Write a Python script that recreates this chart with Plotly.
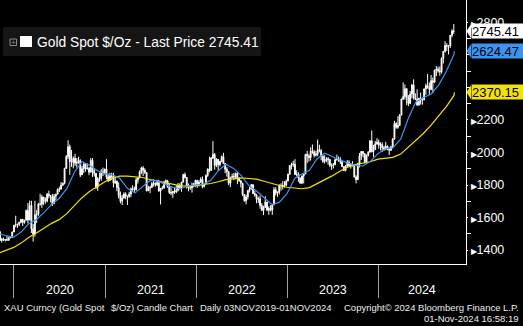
import plotly.graph_objects as go
import pandas as pd

# ---------------- data (weekly candles, USD/oz) ----------------
first_open = 1511
high_2019 = [1517, 1475, 1477, 1466, 1485, 1480, 1482, 1514, 1554]
low_2019 = [1456, 1446, 1456, 1452, 1460, 1457, 1472, 1477, 1510]
close_2019 = [1459, 1468, 1462, 1464, 1460, 1476, 1478, 1511, 1552]

high_2020 = [1611, 1563, 1574, 1589, 1591, 1584, 1649, 1689, 1704, 1703, 1560, 1703, 1645,
             1690, 1747, 1739, 1723, 1723, 1751, 1765, 1737, 1745, 1745, 1746, 1779, 1789,
             1818, 1815, 1906, 1984, 2075, 2049, 2015, 1976, 1992, 1966, 1973, 1958, 1917,
             1933, 1933, 1933, 1911, 1965, 1965, 1897, 1875, 1848, 1875, 1897, 1907, 1900]
low_2020 = [1540, 1536, 1546, 1565, 1548, 1562, 1580, 1563, 1584, 1505, 1451, 1482, 1567,
            1610, 1673, 1659, 1676, 1685, 1693, 1718, 1693, 1671, 1684, 1705, 1743, 1757,
            1772, 1795, 1804, 1900, 1960, 1863, 1911, 1902, 1917, 1907, 1931, 1849, 1863,
            1873, 1882, 1895, 1860, 1876, 1850, 1852, 1775, 1764, 1820, 1826, 1855, 1865]
close_2020 = [1557, 1557, 1571, 1589, 1570, 1584, 1643, 1585, 1674, 1530, 1498, 1617, 1620,
              1683, 1683, 1726, 1700, 1702, 1743, 1734, 1730, 1685, 1730, 1743, 1771, 1775,
              1799, 1810, 1902, 1975, 2035, 1944, 1940, 1964, 1934, 1941, 1950, 1862, 1900,
              1930, 1899, 1902, 1879, 1951, 1889, 1871, 1788, 1839, 1840, 1881, 1877, 1898]

high_2021 = [1959, 1867, 1875, 1875, 1875, 1855, 1826, 1816, 1760, 1740, 1755, 1755, 1734,
             1758, 1784, 1798, 1790, 1845, 1845, 1890, 1912, 1916, 1903, 1877, 1795, 1795,
             1818, 1834, 1815, 1832, 1832, 1782, 1795, 1823, 1834, 1828, 1808, 1787, 1764,
             1782, 1800, 1813, 1810, 1818, 1869, 1877, 1849, 1809, 1793, 1815, 1812, 1832]
low_2021 = [1835, 1817, 1824, 1830, 1785, 1807, 1761, 1717, 1687, 1677, 1719, 1712, 1677,
            1721, 1725, 1764, 1756, 1770, 1809, 1843, 1868, 1855, 1867, 1761, 1770, 1750,
            1783, 1791, 1789, 1794, 1758, 1680, 1772, 1779, 1807, 1783, 1745, 1737, 1721,
            1746, 1750, 1760, 1772, 1758, 1815, 1840, 1778, 1761, 1770, 1753, 1785, 1789]
close_2021 = [1850, 1828, 1856, 1847, 1813, 1824, 1784, 1734, 1700, 1719, 1745, 1732, 1729,
              1744, 1777, 1777, 1769, 1831, 1843, 1881, 1905, 1891, 1877, 1764, 1781, 1784,
              1808, 1812, 1802, 1814, 1763, 1779, 1781, 1818, 1827, 1787, 1754, 1751, 1761,
              1757, 1768, 1792, 1783, 1818, 1864, 1846, 1788, 1783, 1783, 1798, 1808, 1829]

high_2022 = [1831, 1829, 1848, 1853, 1809, 1865, 1902, 1974, 1972, 2070, 1997, 1966, 1960,
             1945, 1982, 1998, 1936, 1910, 1885, 1850, 1870, 1874, 1877, 1880, 1847, 1830,
             1813, 1745, 1740, 1767, 1788, 1807, 1802, 1765, 1745, 1728, 1735, 1688, 1672,
             1730, 1683, 1668, 1675, 1682, 1787, 1787, 1760, 1805, 1810, 1824, 1823, 1833]
low_2022 = [1782, 1792, 1812, 1780, 1785, 1807, 1850, 1878, 1888, 1960, 1895, 1910, 1890,
            1915, 1940, 1932, 1872, 1851, 1799, 1787, 1840, 1830, 1837, 1805, 1820, 1785,
            1732, 1697, 1681, 1711, 1754, 1773, 1745, 1728, 1688, 1690, 1654, 1639, 1615,
            1660, 1642, 1617, 1638, 1616, 1674, 1735, 1727, 1741, 1766, 1774, 1784, 1795]
close_2022 = [1797, 1817, 1835, 1791, 1808, 1859, 1898, 1889, 1966, 1988, 1921, 1958, 1925,
              1946, 1974, 1932, 1897, 1883, 1811, 1847, 1853, 1850, 1871, 1840, 1826, 1811,
              1742, 1703, 1727, 1766, 1775, 1802, 1747, 1737, 1712, 1716, 1675, 1644, 1661,
              1695, 1644, 1657, 1645, 1681, 1771, 1751, 1755, 1797, 1797, 1793, 1798, 1824]

high_2023 = [1870, 1922, 1937, 1949, 1959, 1890, 1878, 1847, 1858, 1870, 1990, 2010, 1990,
             2032, 2049, 2015, 2009, 2079, 2048, 2022, 1985, 1983, 1971, 1972, 1958, 1933,
             1935, 1963, 1987, 1975, 1971, 1948, 1915, 1923, 1953, 1952, 1932, 1947, 1929,
             1860, 1933, 1997, 2009, 2003, 1993, 1988, 2008, 2075, 2135, 2047, 2071, 2088]
low_2023 = [1824, 1864, 1896, 1912, 1861, 1853, 1819, 1809, 1805, 1810, 1867, 1934, 1944,
            1950, 1992, 1969, 1975, 1977, 2001, 1952, 1936, 1932, 1940, 1925, 1910, 1893,
            1902, 1922, 1950, 1942, 1929, 1910, 1885, 1884, 1913, 1915, 1901, 1914, 1846,
            1810, 1831, 1908, 1954, 1970, 1933, 1931, 1976, 2001, 2000, 1973, 2016, 2048]
close_2023 = [1866, 1920, 1926, 1928, 1865, 1865, 1842, 1811, 1856, 1868, 1989, 1978, 1969,
              2008, 2004, 1983, 1990, 2017, 2011, 1977, 1946, 1948, 1961, 1958, 1921, 1919,
              1925, 1955, 1962, 1959, 1943, 1913, 1889, 1915, 1940, 1919, 1924, 1925, 1849,
              1833, 1932, 1981, 2006, 1993, 1940, 1981, 2002, 2072, 2005, 2019, 2053, 2063]

high_2024 = [2079, 2062, 2062, 2041, 2065, 2043, 2032, 2041, 2088, 2195, 2185, 2222, 2236,
             2331, 2431, 2418, 2396, 2353, 2378, 2422, 2450, 2364, 2388, 2336, 2368, 2339,
             2393, 2424, 2483, 2431, 2477, 2461, 2509, 2531, 2528, 2529, 2586, 2625, 2685,
             2672, 2657, 2722, 2758, 2790]
low_2024 = [2024, 2013, 2002, 2009, 2025, 2014, 1984, 2011, 2025, 2078, 2146, 2146, 2164,
            2228, 2323, 2325, 2291, 2285, 2297, 2334, 2326, 2325, 2286, 2287, 2295, 2294,
            2319, 2354, 2393, 2353, 2383, 2364, 2431, 2470, 2491, 2472, 2485, 2547, 2614,
            2625, 2603, 2643, 2709, 2730]
close_2024 = [2045, 2049, 2029, 2018, 2039, 2024, 2013, 2035, 2083, 2179, 2155, 2166, 2230,
              2329, 2344, 2392, 2337, 2302, 2360, 2415, 2334, 2327, 2293, 2333, 2322, 2326,
              2391, 2411, 2400, 2387, 2442, 2431, 2507, 2512, 2503, 2497, 2578, 2622, 2658,
              2653, 2657, 2721, 2747, 2745.41]

# moving averages read at month ends (50-day blue, 200-day yellow)
ma50 = [1502, 1488, 1479, 1512, 1562, 1588, 1630, 1681, 1717, 1777, 1880, 1945, 1920, 1889, 1868,
        1863, 1841, 1780, 1750, 1790, 1828, 1825, 1802, 1785, 1777, 1795, 1801,
        1806, 1829, 1888, 1928, 1902, 1859, 1796, 1763, 1724, 1680, 1693, 1746,
        1840, 1868, 1890, 1960, 1995, 1973, 1955, 1936, 1922, 1917, 1945, 1993,
        2024, 2029, 2082, 2208, 2311, 2337, 2360, 2416, 2500, 2604, 2624.47]
ma200 = [1380, 1398, 1416, 1444, 1477, 1505, 1536, 1564, 1587, 1624, 1675, 1722, 1762, 1792, 1820,
         1844, 1855, 1855, 1852, 1846, 1834, 1823, 1813, 1804, 1795, 1793, 1796,
         1804, 1809, 1820, 1833, 1838, 1844, 1840, 1836, 1823, 1808, 1797, 1786,
         1781, 1777, 1784, 1807, 1833, 1856, 1885, 1909, 1925, 1932, 1943, 1959,
         1967, 1970, 1990, 2031, 2074, 2117, 2168, 2223, 2282, 2351, 2370.15]

year_labels = ["2020", "2021", "2022", "2023", "2024"]
year_starts = ["2020-01-01", "2021-01-01", "2022-01-01", "2023-01-01", "2024-01-01"]
year_label_pos = ["2020-07-02", "2021-07-02", "2022-07-02", "2023-07-02", "2024-06-25"]
y_ticks = [1400, 1600, 1800, 2000, 2200, 2800]
y_minor = [1500, 1700, 1900, 2100, 2300, 2400, 2500, 2600, 2700]

weekly_high = high_2019 + high_2020 + high_2021 + high_2022 + high_2023 + high_2024
weekly_low = low_2019 + low_2020 + low_2021 + low_2022 + low_2023 + low_2024
weekly_close = close_2019 + close_2020 + close_2021 + close_2022 + close_2023 + close_2024
weekly_open = [first_open] + weekly_close[:-1]
week_dates = pd.date_range("2019-11-06", periods=len(weekly_close), freq="7D")
ma_dates = list(pd.date_range("2019-10-31", periods=61, freq=pd.offsets.MonthEnd())) + [pd.Timestamp("2024-11-01")]

# ---------------- figure ----------------
W, H = 523, 326
ML, MR, MT, MB = 0, 57, 0, 62
PW, PH = W - ML - MR, H - MT - MB
def px(x):
    return (x - ML) / PW
def py(y):
    return 1 - (y - MT) / PH

BLUE = "#3d93f0"
YELLOW = "#f2e20c"
FONT = "Liberation Sans, Arial, sans-serif"

fig = go.Figure()
fig.add_trace(go.Candlestick(
    x=week_dates, open=weekly_open, high=weekly_high, low=weekly_low, close=weekly_close,
    increasing=dict(line=dict(color="white", width=1), fillcolor="white"),
    decreasing=dict(line=dict(color="white", width=1), fillcolor="white"),
    whiskerwidth=0, showlegend=False, hoverinfo="skip"))
fig.add_trace(go.Scatter(x=ma_dates, y=ma200, mode="lines",
                         line=dict(color=YELLOW, width=1.2), showlegend=False, hoverinfo="skip"))
fig.add_trace(go.Scatter(x=ma_dates, y=ma50, mode="lines",
                         line=dict(color=BLUE, width=1.2), showlegend=False, hoverinfo="skip"))

y_range = [1314, 2938]
fig.update_layout(
    width=W, height=H, margin=dict(l=ML, r=MR, t=MT, b=MB),
    paper_bgcolor="black", plot_bgcolor="black",
    font=dict(family=FONT, color="white"),
    xaxis=dict(type="date", range=["2019-11-06", "2024-12-18"], rangeslider=dict(visible=False),
               showgrid=False, zeroline=False, showline=True, linecolor="white", linewidth=1,
               ticks="outside", ticklen=33, tickcolor="#a0a0a0", tickwidth=1,
               tickvals=year_starts, showticklabels=False),
    yaxis=dict(side="right", range=y_range, showgrid=False, zeroline=False,
               showline=True, linecolor="white", linewidth=1,
               tickvals=y_ticks,
               ticktext=["<span style='font-size:8px'>\u25B6</span>" + str(v) for v in y_ticks],
               ticks="outside", ticklen=1, tickcolor="white",
               tickfont=dict(size=12.5, color="white", family=FONT),
               minor=dict(tickvals=y_minor, ticks="outside", ticklen=4, tickcolor="white")),
)

ann = []
for lab, pos in zip(year_labels, year_label_pos):
    ann.append(dict(x=pos, xref="x", y=py(290), yref="paper", text=lab, showarrow=False,
                    xanchor="center", yanchor="middle", font=dict(size=12.5, color="white")))

foot = dict(size=9.5, color="#ececec", family=FONT)
ann += [
    dict(x=px(2), y=py(307), text="XAU Curncy (Gold Spot", xanchor="left"),
    dict(x=px(109), y=py(307), text="$/Oz) Candle Chart", xanchor="left"),
    dict(x=px(198), y=py(307), text="Daily 03NOV2019-01NOV2024", xanchor="left"),
    dict(x=px(521), y=py(307), text="Copyright\u00a9 2024 Bloomberg Finance L.P.", xanchor="right"),
    dict(x=px(521), y=py(318), text="01-Nov-2024 16:58:19", xanchor="right"),
]
for a in ann[-5:]:
    a.update(xref="paper", yref="paper", yanchor="middle", showarrow=False, font=foot)

# legend box
shapes = [
    dict(type="rect", xref="paper", yref="paper", x0=px(3), x1=px(261), y0=py(56), y1=py(27),
         fillcolor="#151515", line=dict(width=0), layer="above"),
    dict(type="rect", xref="paper", yref="paper", x0=px(10), x1=px(16.5), y0=py(45.5), y1=py(39),
         fillcolor="rgba(0,0,0,0)", line=dict(color="#8a8a8a", width=1), layer="above"),
    dict(type="rect", xref="paper", yref="paper", x0=px(20), x1=px(32), y0=py(47), y1=py(36),
         fillcolor="white", line=dict(width=0), layer="above"),
]
ann.append(dict(x=px(13.25), y=py(42.25), xref="paper", yref="paper", text="+", showarrow=False,
                font=dict(size=8, color="#8a8a8a"), xanchor="center", yanchor="middle"))
ann.append(dict(x=px(35), y=py(42.5), xref="paper", yref="paper",
                text="Gold Spot $/Oz - Last Price " + f"{weekly_close[-1]:.2f}",
                showarrow=False, xanchor="left", yanchor="middle",
                font=dict(size=13.8, color="white", family=FONT)))

# last-value tags
per_px = (y_range[1] - y_range[0]) / PH
tags = [(weekly_close[-1], "white"), (ma50[-1], BLUE), (ma200[-1], YELLOW)]
for val, col in tags:
    shapes.append(dict(type="path", xref="paper", yref="y", layer="above",
                       path=f"M {px(466.5)},{val} L {px(471)},{val + 7 * per_px} L {px(471)},{val - 7 * per_px} Z",
                       fillcolor=col, line=dict(width=0)))
    ann.append(dict(x=px(470.5), y=val, xref="paper", yref="y", text=f"{val:.2f}", showarrow=False,
                    xanchor="left", yanchor="middle", bgcolor=col, borderpad=0,
                    width=53, height=14, align="left",
                    font=dict(size=13, color="black", family=FONT)))

fig.update_layout(annotations=ann, shapes=shapes)
fig.write_html("out.html")
